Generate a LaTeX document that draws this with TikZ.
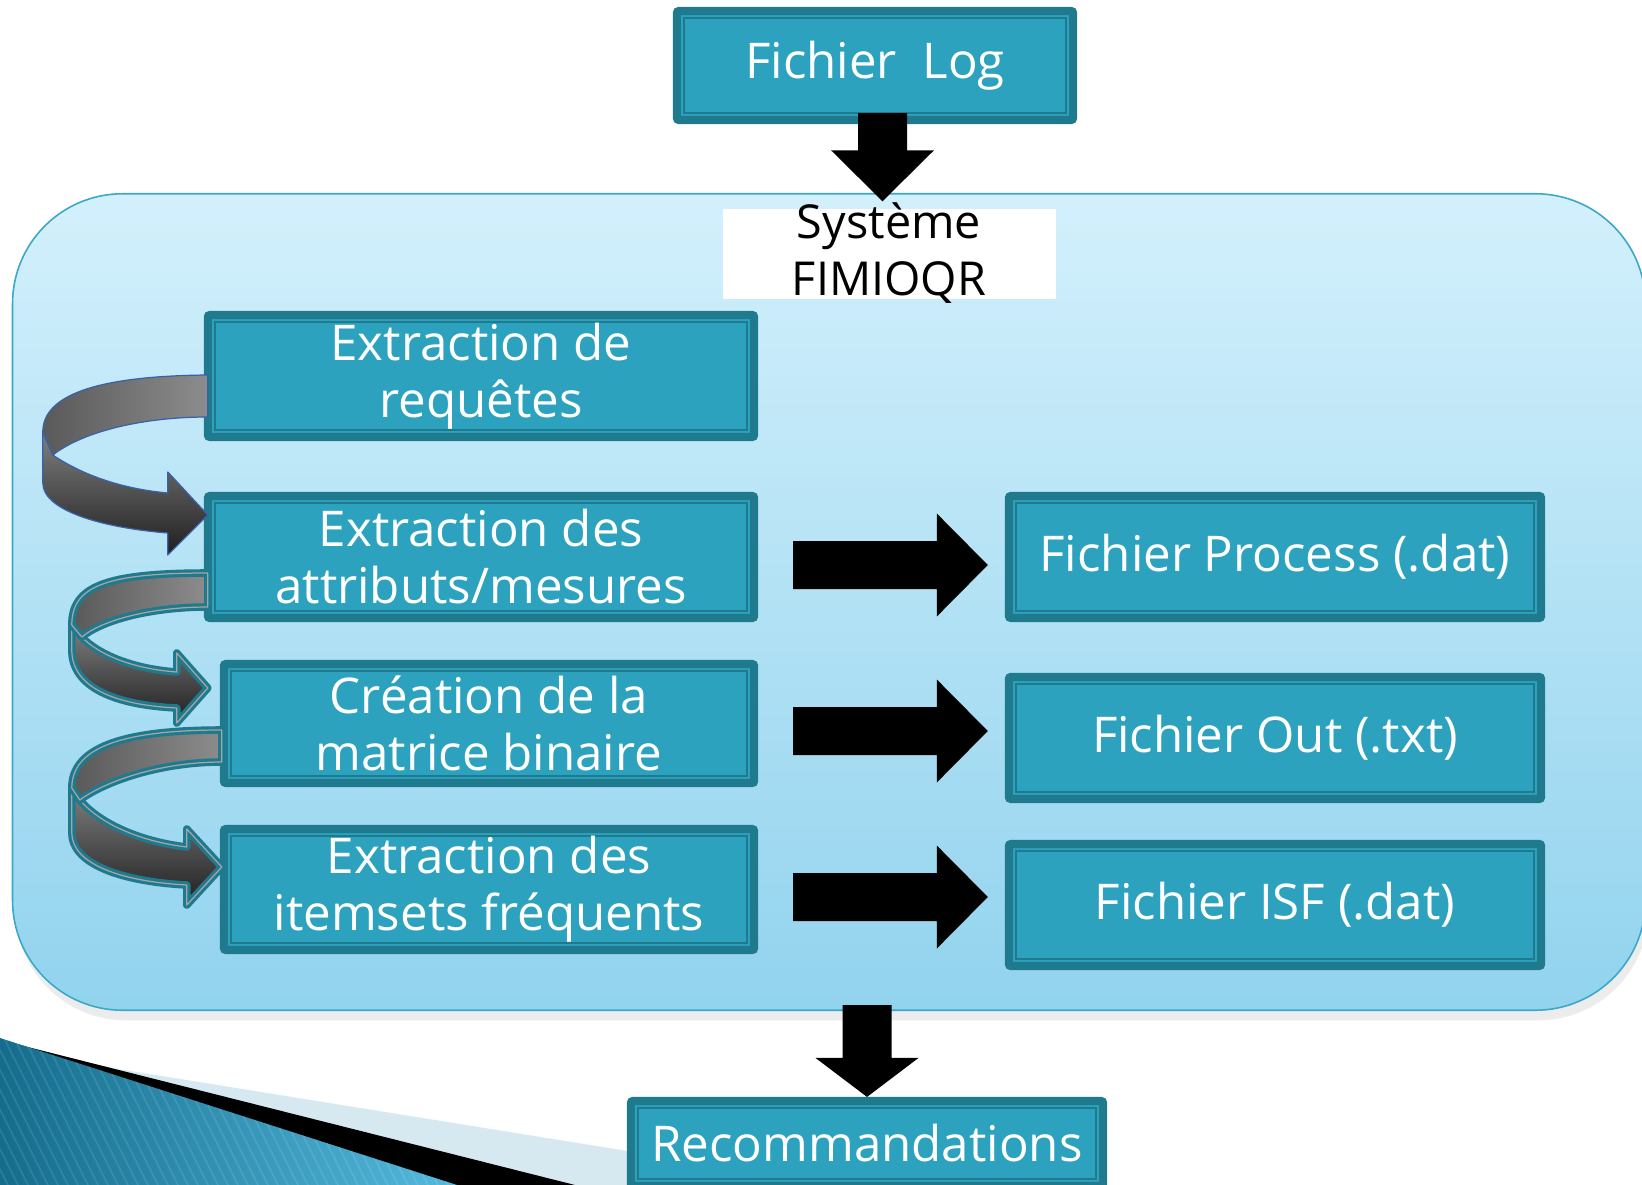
\documentclass[tikz,border=0pt]{standalone}
\usepackage{fontspec}
\setmainfont{Open Sans}
\usetikzlibrary{calc,shadows}

\definecolor{boxfill}{RGB}{44,162,191}
\definecolor{boxedge}{RGB}{31,122,142}
\definecolor{frametop}{RGB}{211,240,252}
\definecolor{framebot}{RGB}{146,211,238}
\definecolor{frameline}{RGB}{58,168,200}
\definecolor{ribbonblue}{RGB}{60,96,168}
\definecolor{swooshdark}{RGB}{20,108,140}
\definecolor{swooshlight}{RGB}{84,186,222}
\definecolor{swooshpale}{RGB}{214,233,241}

\newcommand{\boxtxt}{\fontsize{14}{16.2}\selectfont}
\newcommand{\systxt}{\fontsize{13.3}{16.2}\selectfont}

% fat block arrows: #1 start, #2 tip
\newcommand{\fatright}[2]{\fill[black] ($(#1)+(0,-24)$) -- ($(#2)+(-51,-24)$) -- ($(#2)+(-51,-51.5)$) -- (#2) -- ($(#2)+(-51,51.5)$) -- ($(#2)+(-51,24)$) -- ($(#1)+(0,24)$) -- cycle;}
\newcommand{\fatdown}[3][51]{\fill[black] ($(#2)+(-24.5,0)$) -- ($(#3)+(-24.5,-#1)$) -- ($(#3)+(-51.5,-#1)$) -- (#3) -- ($(#3)+(51.5,-#1)$) -- ($(#3)+(24.5,-#1)$) -- ($(#2)+(24.5,0)$) -- cycle;}

\tikzset{
	procbox/.style={draw=boxedge, fill=boxfill, line width=2.3pt, rounded corners=0.6pt,
		text=white, font=\boxtxt, align=center, inner sep=0pt,
		path picture={\draw[boxedge, line width=0.45pt, sharp corners]
			([shift={(0.07cm,-0.07cm)}]path picture bounding box.north west) rectangle
			([shift={(-0.07cm,0.07cm)}]path picture bounding box.south east);}},
	sysframe/.style={draw=frameline, line width=0.45pt, rounded corners=1.1cm,
		top color=frametop, bottom color=framebot,
		drop shadow={shadow xshift=0.3mm, shadow yshift=-1mm, opacity=0.15}},
	ribbonA/.style={draw=ribbonblue, line width=0.35pt, line join=round},
	ribbonB/.style={draw=boxedge, line width=0.9pt, double=black!35, double distance=0.35pt, line join=round},
	upband/.style={left color=black!65, right color=black!45},
	lowband/.style={top color=black!50, bottom color=black!88}
}

\begin{document}
\begin{tikzpicture}[x=0.01cm, y=-0.01cm]
	%%%%% START %%%%%
	\useasboundingbox (0,0) rectangle (1642,1185);
	\fill[white] (0,0) rectangle (1642,1185);
	
	% swoosh in the lower left corner
	\fill[swooshpale] (0,1050) -- (640,1153) -- (640,1185) -- (0,1185) -- cycle;
	\fill[black] (0,1040) -- (575,1185) -- (0,1185) -- cycle;
	\begin{scope}
		\clip (0,1038) -- (457,1185) -- (0,1185) -- cycle;
		\shade[left color=swooshdark, right color=swooshlight] (0,1038) rectangle (457,1185);
		\foreach \sx in {-90,-80,...,460}
			\draw[white, opacity=0.1, line width=0.5pt] (\sx,1030) -- ++(78,155);
	\end{scope}
	
	% the system
	\node[sysframe, minimum width=16.32cm, minimum height=8.16cm] (frame) at (829,602) {};
	\node[fill=white, minimum width=3.33cm, minimum height=0.9cm, inner sep=0pt] (sys) at (889.5,254) {};
	\node[font=\systxt, align=center, inner sep=0pt] (systitle) at (889,253) {Système\\FIMIOQR};
	
	\node[procbox, minimum width=3.96cm, minimum height=1.09cm] (log) at (875,65.5) {Fichier~~Log};
	
	\node[procbox, minimum width=5.46cm, minimum height=1.22cm] (req) at (481,376) {Extraction de\\requêtes};
	\node[procbox, minimum width=5.46cm, minimum height=1.22cm] (attr) at (481,557) {Extraction des\\attributs/mesures};
	\node[procbox, minimum width=5.30cm, minimum height=1.19cm] (crea) at (489,723.5) {Création de la\\matrice binaire};
	\node[procbox, minimum width=5.30cm, minimum height=1.21cm] (items) at (489,889.5) {Extraction des\\itemsets fréquents};
	
	\node[procbox, minimum width=5.32cm, minimum height=1.22cm] (process) at (1275,557) {Fichier Process (.dat)};
	\node[procbox, minimum width=5.32cm, minimum height=1.22cm] (out) at (1275,738) {Fichier Out (.txt)};
	\node[procbox, minimum width=5.32cm, minimum height=1.22cm] (isf) at (1275,905) {Fichier ISF (.dat)};
	
	\node[procbox, minimum width=4.72cm, minimum height=0.85cm] (rec) at (867,1143.5) {Recommandations};
	
	% curved ribbons on the left
	\begin{scope}[shift={(req.west)}]
		\shadedraw[ribbonA, lowband] (-161,56) -- (-161,107) .. controls (-161,135) and (-100,152) .. (-36,157) -- (-36,179) -- (4,139) -- (-36,96) -- (-36,117) .. controls (-80,113) and (-120,100) .. (-151,79) -- cycle;
		\shadedraw[ribbonA, upband] (4,-1) .. controls (-110,0) and (-161,20) .. (-161,56) -- (-151,79) .. controls (-120,55) and (-60,41) .. (4,41) -- cycle;
	\end{scope}
	\begin{scope}[shift={(attr.west)}]
		\shadedraw[ribbonB, lowband] (-132,68) -- (-132,93) .. controls (-132,130) and (-90,148) .. (-27,151) -- (-27,166) -- (4,131) -- (-27,96) -- (-27,115) .. controls (-70,112) and (-105,98) .. (-122,80) -- cycle;
		\shadedraw[ribbonB, upband] (4,16) .. controls (-100,16) and (-132,30) .. (-132,68) -- (-122,80) .. controls (-100,62) and (-50,50) .. (4,50) -- cycle;
	\end{scope}
	\begin{scope}[shift={(crea.west)}]
		\shadedraw[ribbonB, lowband] (-148,64.5) -- (-148,109.5) .. controls (-148,140) and (-100,158) .. (-33,161.5) -- (-33,181.5) -- (2,143.5) -- (-33,105.5) -- (-33,123.5) .. controls (-80,118) and (-120,100) .. (-140,76.5) -- cycle;
		\shadedraw[ribbonB, upband] (2,6.5) .. controls (-100,6.5) and (-148,25) .. (-148,64.5) -- (-140,76.5) .. controls (-115,58) and (-60,38.5) .. (2,38.5) -- cycle;
	\end{scope}
	
	% block arrows
	\coordinate (d1a) at ($(log.south)+(7.5,-11)$);
	\coordinate (d1b) at ($(sys.north -| d1a)+(0,-7)$);
	\fatdown{d1a}{d1b}
	
	\coordinate (a1s) at ($(attr.east |- process.west)+(35,8)$);
	\coordinate (a1t) at ($(process.west)+(-17,8)$);
	\fatright{a1s}{a1t}
	\coordinate (a2s) at ($(crea.east |- out.west)+(35,-7)$);
	\coordinate (a2t) at ($(out.west)+(-17,-7)$);
	\fatright{a2s}{a2t}
	\coordinate (a3s) at ($(items.east |- isf.west)+(35,-8)$);
	\coordinate (a3t) at ($(isf.west)+(-17,-8)$);
	\fatright{a3s}{a3t}
	
	\coordinate (d2a) at ($(frame.south -| rec.north)+(0,-6)$);
	\fatdown[39]{d2a}{rec.north}
	%%%%% END %%%%%
\end{tikzpicture}
\end{document}
